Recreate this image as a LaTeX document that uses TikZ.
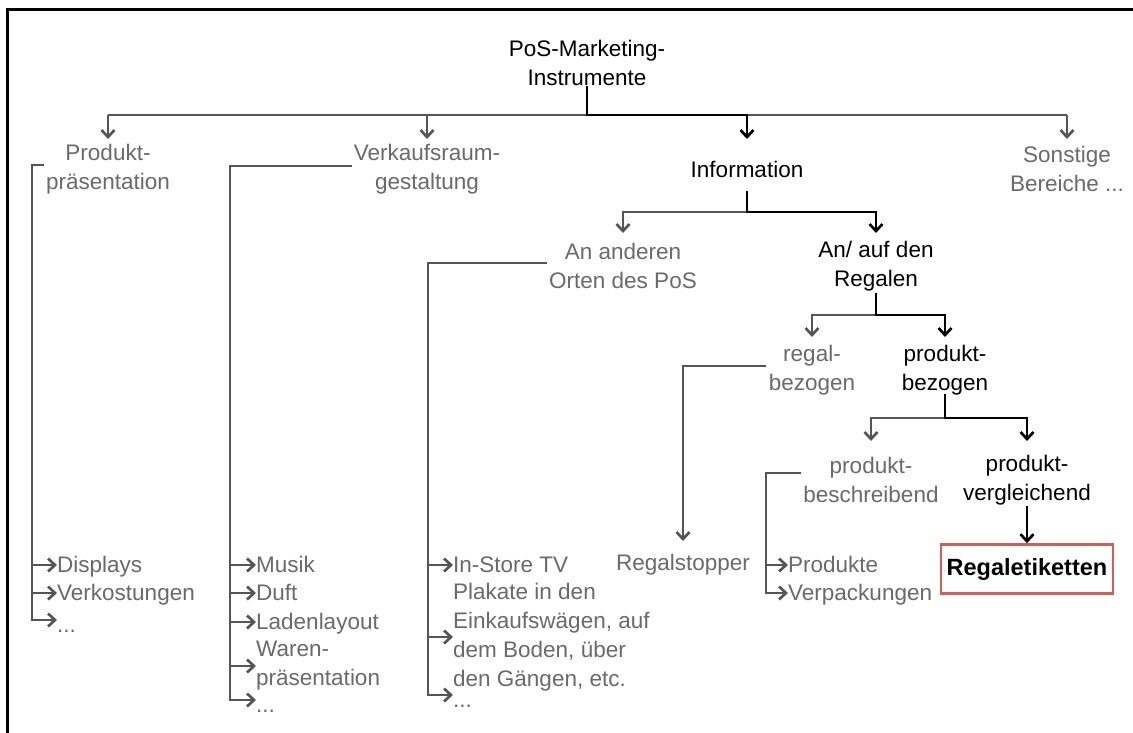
\documentclass[tikz,border=0pt]{standalone}
\usepackage{fontspec}
\setmainfont{Liberation Sans}
\usetikzlibrary{arrows.meta}
\definecolor{txtgray}{HTML}{6A6A6A}
\definecolor{lngray}{HTML}{555555}
\definecolor{boxred}{RGB}{214,92,86}

\begin{document}
\begin{tikzpicture}[x=1pt,y=-1pt,
  every node/.style={inner sep=0pt, font=\fontsize{22.5}{29}\selectfont},
  grey/.style={text=txtgray, align=center},
  dark/.style={text=black, align=center},
  item/.style={text=txtgray, anchor=west, text height=17pt, text depth=3pt},
  dots/.style={text height=24pt, text depth=0pt},
  block/.style={text=txtgray, anchor=west, align=left},
  gl/.style={draw=lngray, line width=2.7pt},
  bl/.style={draw=black, line width=2.7pt},
  tip/.style={-{Straight Barb[length=7pt,width=13pt]}},
]
\useasboundingbox (0,0) rectangle (1133,733);
\fill[white] (0,0) rectangle (1133,733);
\draw[line width=2.8pt] (7.5,733) -- (7.5,9.5) -- (1133,9.5);

% tree nodes
\node[dark] (root) at (587,63) {PoS-Marketing-\\Instrumente};
\node[grey] (pp) at (108,169) {Produkt-\\präsentation};
\node[grey] (vg) at (427,169) {Verkaufsraum-\\gestaltung};
\node[dark] (info) at (747,169) {Information};
\node[grey] (sb) at (1067,169) {Sonstige\\Bereiche ...};
\node[grey] (ao) at (623,266) {An anderen\\Orten des PoS};
\node[dark] (ar) at (876,266) {An/ auf den\\Regalen};
\node[grey] (rb) at (812,370) {regal-\\bezogen};
\node[dark] (pb) at (945,370) {produkt-\\bezogen};
\node[grey] (pbs) at (871,480) {produkt-\\beschreibend};
\node[dark] (pv) at (1027,480) {produkt-\\vergleichend};
\node[draw=boxred, line width=2.6pt, minimum width=172pt, minimum height=49pt,
      font=\fontsize{23.5}{29}\selectfont\bfseries] (re) at (1027,569) {Regaletiketten};

% leaf lists
\node[item] (i1) at (57,565) {Displays};
\node[item] (i2) at (57,593) {Verkostungen};
\node[item,dots] (i3) at (57,620) {...};

\node[item] (m1) at (256,565) {Musik};
\node[item] (m2) at (256,593) {Duft};
\node[item] (m3) at (256,622) {Ladenlayout};
\node[block] (m4) at (256,666) {Waren-\\präsentation};
\node[item,dots] (m5) at (256,700) {...};

\node[item] (s1) at (453,565) {In-Store TV};
\node[block] (s2) at (453,637) {Plakate in den\\Einkaufswägen, auf\\dem Boden, über\\den Gängen, etc.};
\node[item,dots] (s3) at (453,695) {...};

\node[grey] (rs) at (683,565) {Regalstopper};

\node[item] (v1) at (788,565) {Produkte};
\node[item] (v2) at (788,593) {Verpackungen};

% first level
\draw[gl] (pp.north |- 0,115) -- (sb.north |- 0,115);
\foreach \n in {pp,vg,sb} \draw[gl,tip] (\n.north |- 0,115) -- (\n.north |- 0,139);
\draw[bl,tip] (root.south) |- (info.north |- 0,115) -- (info.north |- 0,139);

% information branch
\draw[gl,tip] (info.south |- 0,212) -| (ao.north |- 0,233);
\draw[bl,tip] (info.south |- 0,191) -- (info.south |- 0,212) -| (ar.north |- 0,233);

\draw[gl,tip] (ar.south |- 0,315) -| (rb.north |- 0,337);
\draw[bl,tip] (ar.south |- 0,293) -- (ar.south |- 0,315) -| (pb.north |- 0,337);

\draw[gl,tip] (pb.south |- 0,418) -| (pbs.north |- 0,441);
\draw[bl,tip] (pb.south |- 0,394) -- (pb.south |- 0,418) -| (pv.north |- 0,441);

\draw[bl,tip] (pv.south |- 0,506) -- (re.north);

% list connectors
\draw[gl,tip] ([xshift=-2pt]pp.west |- 0,165) -| (i3.west -| 32,0) -- (i3.west);
\foreach \n in {i1,i2} \draw[gl,tip] (\n.west -| 32,0) -- (\n.west);

\draw[gl,tip] ([xshift=-2pt]vg.west |- 0,166) -| (m5.west -| 230,0) -- (m5.west);
\foreach \n in {m1,m2,m3,m4} \draw[gl,tip] (\n.west -| 230,0) -- (\n.west);

\draw[gl,tip] ([xshift=-2pt]ao.west |- 0,263) -| (s3.west -| 428,0) -- (s3.west);
\foreach \n in {s1,s2} \draw[gl,tip] (\n.west -| 428,0) -- (\n.west);

\draw[gl,tip] ([xshift=-3pt]rb.west |- 0,366) -| (rs.north |- 0,541);

\draw[gl,tip] ([xshift=-2pt]pbs.west |- 0,473) -| (v2.west -| 766,0) -- (v2.west);
\draw[gl,tip] (v1.west -| 766,0) -- (v1.west);
\end{tikzpicture}
\end{document}
